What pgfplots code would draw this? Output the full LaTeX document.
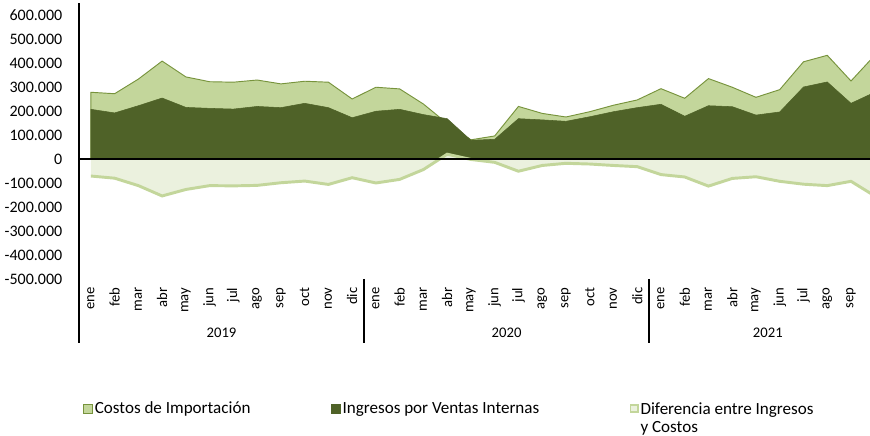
\documentclass[border=0pt]{standalone}
\usepackage{pgfplots}
\pgfplotsset{compat=1.18}
\usepackage{pgfplotstable}
\usepackage{fontspec}
\setmainfont{Carlito}
\usetikzlibrary{calc}

\definecolor{costfill}{HTML}{C3D69B}
\definecolor{costline}{HTML}{77933C}
\definecolor{ingfill}{HTML}{4F6228}
\definecolor{diffill}{HTML}{EBF1DE}
\definecolor{difline}{HTML}{C3D69B}
\newcommand{\lfont}{\fontsize{11}{13}\selectfont}
\newcommand{\yfont}{\fontsize{12}{14}\selectfont}
\newcommand{\gfont}{\fontsize{12.8}{14.5}\selectfont}

% x: 0 = ene 2019 ... 33 = oct 2021
\pgfplotstableread{
x costos ingresos dif
0 278000 207000 -71000
1 272000 192000 -80000
2 333000 222000 -111000
3 408000 254000 -154000
4 342000 215000 -127000
5 322000 211000 -111000
6 320000 208000 -112000
7 329000 219000 -110000
8 313000 214000 -99000
9 324000 232000 -92000
10 320000 214000 -106000
11 250000 172000 -78000
12 299000 199000 -100000
13 292000 207000 -85000
14 229000 185000 -44000
15 148000 168000 20000
16 80000 78000 -2000
17 96000 82000 -14000
18 219000 168000 -51000
19 190000 163000 -27000
20 175000 157000 -18000
21 197000 176000 -21000
22 224000 197000 -27000
23 246000 214000 -32000
24 293000 228000 -65000
25 253000 178000 -75000
26 335000 222000 -113000
27 299000 218000 -81000
28 257000 183000 -74000
29 289000 196000 -93000
30 405000 300000 -105000
31 432000 321000 -111000
32 325000 232000 -93000
33 432000 278000 -154000
}\datos

\begin{document}
\begin{tikzpicture}[font=\lfont]
\begin{axis}[
name=ax,
scale only axis,
width=593.25pt, height=207pt,
xmin=-0.5, xmax=32.8,
ymin=-500000, ymax=650000,
clip mode=individual,
axis x line*=bottom, axis y line*=left,
x axis line style={draw=none},
y axis line style={black, line width=0.9pt, -},
major tick length=0pt,
xtick={0,...,33},
xticklabels={ene,feb,mar,abr,may,jun,jul,ago,sep,oct,nov,dic,
ene,feb,mar,abr,may,jun,jul,ago,sep,oct,nov,dic,
ene,feb,mar,abr,may,jun,jul,ago,sep,oct},
xticklabel style={rotate=90, anchor=east, font=\lfont},
xticklabel shift=3pt,
ytick={-500000,-400000,-300000,-200000,-100000,0,100000,200000,300000,400000,500000,600000},
yticklabels={-500.000,-400.000,-300.000,-200.000,-100.000,0,100.000,200.000,300.000,400.000,500.000,600.000},
yticklabel style={font=\yfont},
yticklabel shift=9pt,
legend style={at={(0.005,-0.435)}, anchor=north west, draw=none, fill=none,
  inner sep=0pt, font=\gfont, nodes={inner sep=1.5pt},
  /tikz/every even column/.append style={column sep=0pt}},
legend columns=3,
legend cell align=left,
]
\addplot[fill=costfill, draw=costline, line width=0.7pt,
  legend image code/.code={\draw[fill=costfill,draw=costline,line width=0.5pt] (0pt,-3.4pt) rectangle (6.75pt,3.4pt);}]
  table[x=x,y=costos]{\datos} \closedcycle;
\addlegendentry{\makebox[175.5pt][l]{Costos de Importación}}
\addplot[fill=ingfill, draw=ingfill, line width=0.4pt,
  legend image code/.code={\draw[fill=ingfill,draw=ingfill,line width=0.5pt] (0pt,-3.4pt) rectangle (6.75pt,3.4pt);}]
  table[x=x,y=ingresos]{\datos} \closedcycle;
\addlegendentry{\makebox[213.75pt][l]{Ingresos por Ventas Internas}}
\addplot[fill=diffill, draw=none,
  legend image code/.code={\draw[fill=diffill,draw=difline,line width=1.4pt] (0.7pt,-2.7pt) rectangle (6.05pt,2.7pt);}]
  table[x=x,y=dif]{\datos} \closedcycle;
\addlegendentry{\renewcommand{\arraystretch}{0.95}\begin{tabular}[t]{@{}l@{}}Diferencia entre Ingresos\\y Costos\end{tabular}}
\addplot[difline, line width=2.2pt, forget plot] table[x=x,y=dif]{\datos};

\draw[black, line width=0.9pt] ({rel axis cs:0,0}|-{axis cs:0,0}) -- ({rel axis cs:1,0}|-{axis cs:0,0});
% year separators of the category axis
\draw[black, line width=0.9pt] (axis cs:-0.5,-500000) -- ++(0pt,-48pt);
\draw[black, line width=0.9pt] (axis cs:11.5,-500000) -- ++(0pt,-48pt);
\draw[black, line width=0.9pt] (axis cs:23.5,-500000) -- ++(0pt,-48pt);
\node at (axis cs:5.5,-500000) [yshift=-40.5pt] {2019};
\node at (axis cs:17.5,-500000) [yshift=-40.5pt] {2020};
\node at (axis cs:28.5,-500000) [yshift=-40.5pt] {2021};
\end{axis}
\pgfresetboundingbox
\path ($(ax.south west)+(-59.25pt,-117.75pt)$) rectangle ($(ax.north east)+(0pt,2.25pt)$);
\end{tikzpicture}
\end{document}
